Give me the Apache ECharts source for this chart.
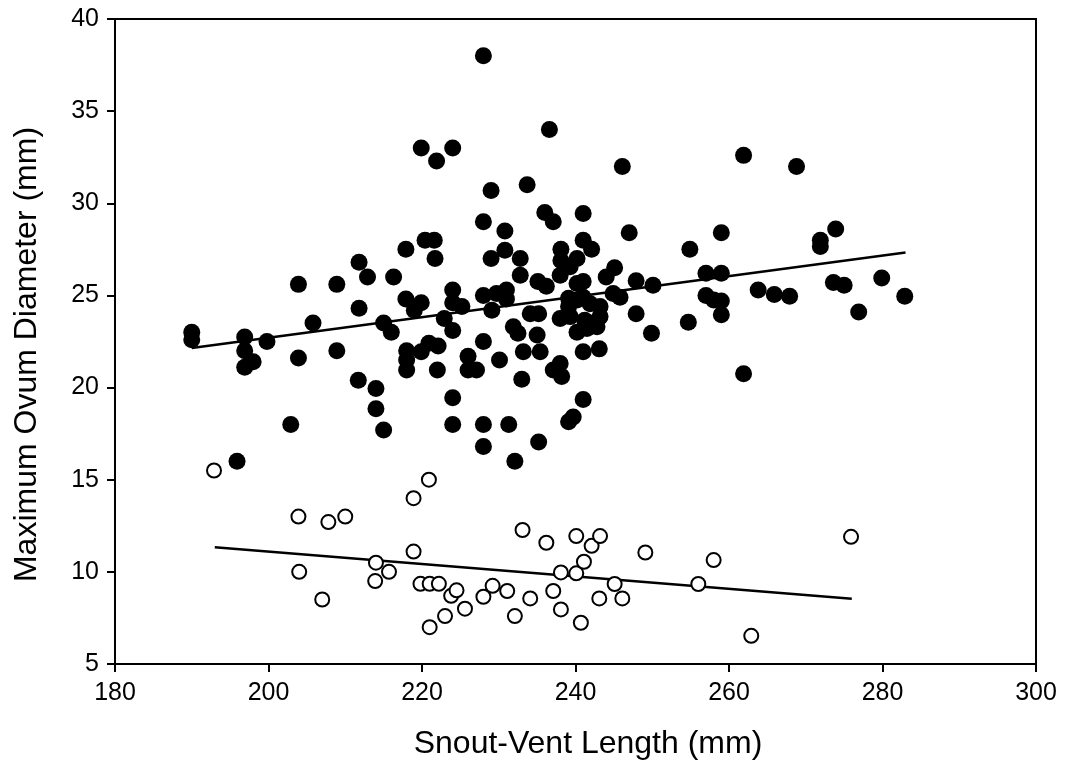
<!DOCTYPE html>
<html>
<head>
<meta charset="utf-8">
<script src="https://cdn.jsdelivr.net/npm/echarts@6/dist/echarts.min.js"></script>
<style>html,body{margin:0;padding:0;background:#fff;}#chart{width:1066px;height:777px;}</style>
</head>
<body>
<div id="chart"></div>
<script>
var xTicks = [180, 200, 220, 240, 260, 280, 300];
var yTicks = [5, 10, 15, 20, 25, 30, 35, 40];

var filledX = [190.0,190.0,196.9,196.9,198.0,196.9,199.8,195.9,202.9,203.9,205.8,203.9,208.9,208.9,211.8,212.9,216.3,211.8,211.7,214.0,214.0,215.0,215.0,216.0,217.9,220.4,221.6,221.7,217.9,219.9,219.0,218.0,218.0,218.0,219.9,220.9,222.1,222.0,219.9,221.9,224.0,224.0,224.0,225.2,222.9,224.0,224.0,224.0,226.0,226.0,227.1,228.0,230.1,228.0,228.0,231.3,232.1,228.0,236.6,229.0,233.7,228.0,230.8,230.8,229.0,228.0,229.7,231.0,229.1,231.0,236.0,237.1,241.0,247.0,232.8,238.1,241.0,242.1,254.9,238.1,240.2,245.1,244.0,232.8,235.1,236.2,238.0,239.3,240.2,241.0,247.9,250.1,244.9,245.8,241.0,239.1,240.2,241.9,243.2,239.1,234.1,235.2,238.0,239.3,241.2,241.9,243.2,247.9,254.7,231.9,232.5,235.0,233.2,235.4,233.0,237.1,238.0,238.2,240.2,241.5,242.8,241.0,243.1,249.9,241.0,239.1,239.7,235.2,261.9,259.0,257.0,259.0,263.8,265.9,267.9,257.0,258.0,259.0,259.0,261.9,268.8,273.9,271.9,271.9,273.6,275.0,279.9,282.9,276.9,246.1];
var filledY = [23.0,22.6,22.75,22.0,21.4,21.1,22.5,16.0,18.0,25.6,23.5,21.6,25.6,22.0,26.8,26.0,26.0,24.3,20.4,19.95,18.85,17.7,23.5,23.0,27.5,28.0,28.0,27.0,24.8,24.6,24.2,22.0,21.5,20.95,21.95,22.4,22.25,20.95,33.0,32.3,33.0,25.3,24.6,24.4,23.75,23.1,19.45,18.0,21.7,20.95,20.95,22.5,21.5,18.0,16.8,18.0,16.0,38.0,34.0,30.7,31.0,29.0,28.5,27.45,27.0,25.0,25.1,25.3,24.2,24.8,29.5,29.0,29.45,28.4,27.0,27.5,28.0,27.5,27.5,26.9,27.0,26.5,26.0,26.1,25.75,25.5,26.1,26.55,25.65,25.75,25.8,25.55,25.1,24.9,24.9,24.85,24.75,24.55,24.4,24.4,24.0,24.0,23.75,23.85,23.65,23.5,23.85,24.0,23.55,23.3,22.95,22.85,21.95,21.95,20.45,20.95,21.3,20.6,23.0,23.2,23.3,21.95,22.1,22.95,19.35,18.15,18.4,17.05,32.6,28.4,26.2,26.2,25.3,25.05,24.95,25.0,24.75,24.7,23.95,20.75,32.0,28.6,28.0,27.65,25.7,25.55,25.95,24.95,24.1,32.0];

var openX = [192.9,203.9,207.8,210.0,220.9,218.9,218.9,214.0,215.7,213.9,204.0,207.0,219.8,221.0,222.2,223.8,224.5,223.0,221.0,225.6,228.0,229.2,231.1,232.1,234.1,233.1,236.2,237.1,238.1,238.1,240.1,241.1,242.1,240.1,243.2,240.7,243.1,245.1,246.1,249.1,256.0,258.0,262.9,275.9];
var openY = [15.5,13.0,12.7,13.0,15.0,14.0,11.1,10.5,10.0,9.5,10.0,8.5,9.35,9.35,9.35,8.7,9.0,7.6,7.0,8.0,8.65,9.24,8.96,7.6,8.56,12.27,11.58,8.96,7.96,9.97,9.92,10.55,11.41,11.94,11.94,7.24,8.56,9.34,8.56,11.05,9.34,10.64,6.53,11.9];

var filledFitX = [190, 283];
var filledFitY = [22.15, 27.33];
var openFitX = [193, 276];
var openFitY = [11.33, 8.54];

function pairs(xs, ys) { return xs.map(function (x, i) { return [x, ys[i]]; }); }

var chart = echarts.init(document.getElementById('chart'), null, {renderer: 'canvas'});
var font = 'Liberation Sans, Arial, sans-serif';
chart.setOption({
  animation: false,
  backgroundColor: '#ffffff',
  grid: {left: 115, right: 30, top: 19, bottom: 113, show: true, borderColor: '#000', borderWidth: 2, backgroundColor: 'transparent'},
  xAxis: {
    type: 'value', min: xTicks[0], max: xTicks[xTicks.length - 1], interval: 20,
    name: 'Snout-Vent Length (mm)', nameLocation: 'middle', nameGap: 64,
    nameTextStyle: {fontFamily: font, fontSize: 32, color: '#000', padding: [0, 0, 0, 25]},
    axisLine: {show: true, lineStyle: {color: '#000', width: 2}},
    axisTick: {show: true, inside: false, length: 8, lineStyle: {color: '#000', width: 2}},
    axisLabel: {fontFamily: font, fontSize: 25, color: '#000', margin: 17},
    splitLine: {show: false}
  },
  yAxis: {
    type: 'value', min: yTicks[0], max: yTicks[yTicks.length - 1], interval: 5,
    name: 'Maximum Ovum Diameter (mm)', nameLocation: 'middle', nameGap: 72, nameRotate: 90,
    nameTextStyle: {fontFamily: font, fontSize: 32, color: '#000', padding: [0, 26, 0, 0]},
    axisLine: {show: true, lineStyle: {color: '#000', width: 2}},
    axisTick: {show: true, inside: false, length: 8, lineStyle: {color: '#000', width: 2}},
    axisLabel: {fontFamily: font, fontSize: 25, color: '#000', margin: 16},
    splitLine: {show: false}
  },
  series: [
    {type: 'line', data: pairs(filledFitX, filledFitY), symbol: 'none', lineStyle: {color: '#000', width: 2.5}, z: 1},
    {type: 'line', data: pairs(openFitX, openFitY), symbol: 'none', lineStyle: {color: '#000', width: 2.5}, z: 1},
    {type: 'scatter', data: pairs(filledX, filledY), symbol: 'circle', symbolSize: 17, itemStyle: {color: '#000', opacity: 1}, z: 3},
    {type: 'scatter', data: pairs(openX, openY), symbol: 'circle', symbolSize: 14, itemStyle: {color: '#fff', borderColor: '#000', borderWidth: 2, opacity: 1}, z: 3}
  ]
});
</script>
</body>
</html>
